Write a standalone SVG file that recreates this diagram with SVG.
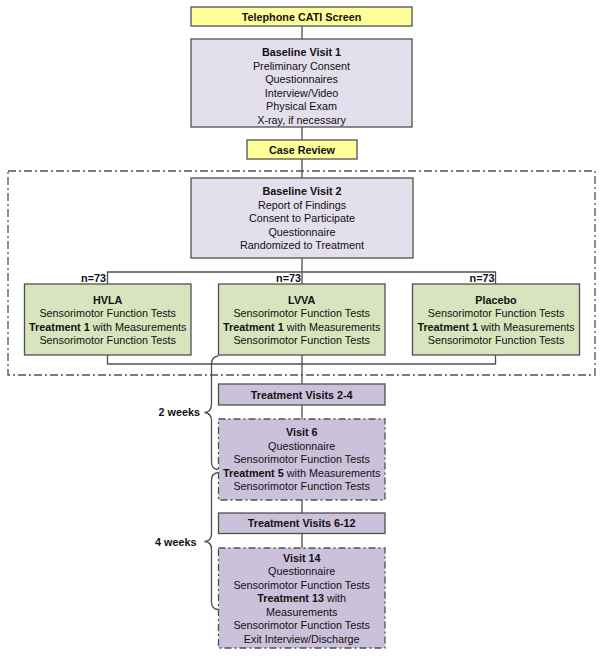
<svg xmlns="http://www.w3.org/2000/svg" width="600" height="656" viewBox="0 0 600 656">
<style>
text{font-family:"Liberation Sans",Arial,sans-serif;font-size:10.8px;fill:#111;text-anchor:middle}
.b{font-weight:bold}
.box{stroke:#505050;stroke-width:1.3}
.yel{fill:#FFFF99}
.lav{fill:#E4DFEC}
.grn{fill:#D7E4BD}
.pur{fill:#CCC1DA}
.dash{stroke-dasharray:7 3 2 3}
.ln{stroke:#505050;stroke-width:1.3;fill:none}
</style>
<rect width="600" height="656" fill="#fff"/>
<g id="group-box">
<rect x="8" y="171" width="587" height="204" fill="none" stroke="#505050" stroke-width="1.3" stroke-dasharray="8 3 2 3"/>
</g>
<g id="connectors">
<path class="ln" d="M302 26V39M302 127V140M302 159V178M302 258V272M107.5 284V272H495.5V284M302 272V284M107.5 355V364H495.5V355M302 355V384M302 405V419M302 500V513M302 533V548"/>
<path class="ln" d="M218 356Q211.5 357 211.5 364V404Q211.5 412 204.5 412.5Q211.5 413 211.5 421V462Q211.5 469 218 469.5"/>
<path class="ln" d="M218 472.5Q211.5 473.5 211.5 480V534Q211.5 541 204.5 541.5Q211.5 542 211.5 549V602Q211.5 609 218 609.5"/>
</g>
<g id="telephone">
<rect class="box yel" x="191" y="7" width="221" height="19"/>
<text class="b" x="301.5" y="20.5">Telephone CATI Screen</text>
</g>
<g id="baseline1">
<rect class="box lav" x="191" y="39" width="221" height="88"/>
<text class="b" x="301.5" y="56">Baseline Visit 1</text>
<text x="301.5" y="69.6">Preliminary Consent</text>
<text x="301.5" y="83.2">Questionnaires</text>
<text x="301.5" y="96.8">Interview/Video</text>
<text x="301.5" y="110.4">Physical Exam</text>
<text x="301.5" y="124">X-ray, if necessary</text>
</g>
<g id="casereview">
<rect class="box yel" x="247" y="140" width="110" height="19"/>
<text class="b" x="302" y="153.5">Case Review</text>
</g>
<g id="baseline2">
<rect class="box lav" x="191" y="178" width="222" height="80"/>
<text class="b" x="302" y="195">Baseline Visit 2</text>
<text x="302" y="208.6">Report of Findings</text>
<text x="302" y="222.2">Consent to Participate</text>
<text x="302" y="235.8">Questionnaire</text>
<text x="302" y="249.4">Randomized to Treatment</text>
</g>
<g id="labels">
<text class="b" x="106" y="282" style="text-anchor:end">n=73</text>
<text class="b" x="301" y="282" style="text-anchor:end">n=73</text>
<text class="b" x="494.5" y="282" style="text-anchor:end">n=73</text>
<text class="b" x="200" y="416" style="text-anchor:end">2 weeks</text>
<text class="b" x="196.5" y="546" style="text-anchor:end">4 weeks</text>
</g>
<g id="hvla">
<rect class="box grn" x="24.5" y="284" width="166.5" height="71"/>
<text class="b" x="107.7" y="303.5">HVLA</text>
<text x="107.7" y="317">Sensorimotor Function Tests</text>
<text x="107.7" y="330.5"><tspan class="b">Treatment 1</tspan> with Measurements</text>
<text x="107.7" y="344">Sensorimotor Function Tests</text>
</g>
<g id="lvva">
<rect class="box grn" x="218.5" y="284" width="166.5" height="71"/>
<text class="b" x="301.7" y="303.5">LVVA</text>
<text x="301.7" y="317">Sensorimotor Function Tests</text>
<text x="301.7" y="330.5"><tspan class="b">Treatment 1</tspan> with Measurements</text>
<text x="301.7" y="344">Sensorimotor Function Tests</text>
</g>
<g id="placebo">
<rect class="box grn" x="412.5" y="284" width="167" height="71"/>
<text class="b" x="496" y="303.5">Placebo</text>
<text x="496" y="317">Sensorimotor Function Tests</text>
<text x="496" y="330.5"><tspan class="b">Treatment 1</tspan> with Measurements</text>
<text x="496" y="344">Sensorimotor Function Tests</text>
</g>
<g id="tv24">
<rect class="box pur" x="218.5" y="384" width="166.5" height="21"/>
<text class="b" x="301.7" y="398.5">Treatment Visits 2-4</text>
</g>
<g id="visit6">
<rect class="box pur dash" x="218.5" y="419" width="166.5" height="81"/>
<text class="b" x="301.7" y="436">Visit 6</text>
<text x="301.7" y="449.6">Questionnaire</text>
<text x="301.7" y="463.2">Sensorimotor Function Tests</text>
<text x="301.7" y="476.8"><tspan class="b">Treatment 5</tspan> with Measurements</text>
<text x="301.7" y="490.4">Sensorimotor Function Tests</text>
</g>
<g id="tv612">
<rect class="box pur" x="218.5" y="513" width="166.5" height="20.5"/>
<text class="b" x="301.7" y="527.3">Treatment Visits 6-12</text>
</g>
<g id="visit14">
<rect class="box pur dash" x="218.5" y="548" width="166.5" height="100"/>
<text class="b" x="301.7" y="561.5">Visit 14</text>
<text x="301.7" y="575">Questionnaire</text>
<text x="301.7" y="588.5">Sensorimotor Function Tests</text>
<text x="301.7" y="602"><tspan class="b">Treatment 13</tspan> with</text>
<text x="301.7" y="615.5">Measurements</text>
<text x="301.7" y="629">Sensorimotor Function Tests</text>
<text x="301.7" y="642.5">Exit Interview/Discharge</text>
</g>
</svg>
